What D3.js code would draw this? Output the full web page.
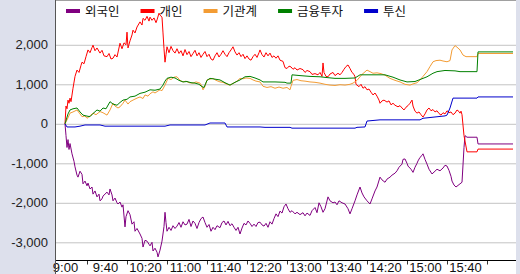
<!DOCTYPE html>
<html>
<head>
<meta charset="utf-8">
<script src="https://cdn.jsdelivr.net/npm/d3@7"></script>
<style>
  body { margin: 0; background: #dde0ec; }
  svg { display: block; }
</style>
</head>
<body>
<svg width="520" height="274"></svg>
<script>
// legend / series names
const seriesNames = ['외국인', '개인', '기관계', '금융투자', '투신']
const seriesColors = ['#800080', '#ff0000', '#f39c34', '#008000', '#0000cc']

// axis labels
const timeLabels = ['9:00', '9:40', '10:20', '11:00', '11:40', '12:20', '13:00', '13:40', '14:20', '15:00', '15:40']
const labelMinutes = [0, 40, 80, 120, 160, 200, 240, 280, 320, 360, 400]
const tickMinutes = [20, 60, 100, 140, 180, 220, 260, 300, 340, 380, 420]
const yTicks = [-3000, -2000, -1000, 0, 1000, 2000]

// 외국인 (minutes after 9:00, value)
const foreignT = [0,1,2,3,4,5,7,9,10,12,13,15,17,18,20,22,23,25,27,28,30,32,34,35,37,38,40,42,44,45,47,48,50,52,53,55,57,58,60,61,63,65,67,69,70,72,75,77,78,80,82,84,85,87,88,90,92,93,95,97,99,100,101,102,104,106,108,110,112,114,116,118,120,122,124,126,128,130,132,134,136,138,140,142,144,146,148,150,152,155,157,159,161,163,165,167,169,171,173,175,177,179,181,183,185,187,189,191,193,195,197,199,201,203,205,207,209,211,213,215,217,219,221,223,225,227,230,232,235,238,240,242,245,247,250,252,254,256,258,260,263,265,268,270,272,274,277,280,283,285,287,290,292,295,297,299,302,305,307,310,312,315,317,320,322,325,327,330,332,334,337,338,340,342,343,346,348,350,352,353,355,357,358,360,362,364,367,370,372,375,378,380,382,384,386,387,389,391,393,395,397,399,400,402,412,413,448]
const foreignV = [0,-300,-600,-400,-650,-500,-760,-950,-1090,-1300,-1350,-1200,-1280,-1520,-1450,-1570,-1500,-1650,-1600,-1780,-1700,-1850,-1780,-1950,-1900,-1830,-1780,-1730,-1800,-1650,-1800,-1950,-1880,-2000,-2030,-1980,-2110,-2050,-2610,-2350,-2200,-2300,-2540,-2480,-2720,-2650,-2790,-2900,-3120,-2950,-2970,-3050,-3090,-3000,-3220,-3150,-3250,-3370,-3200,-2970,-2600,-2240,-2500,-2720,-2620,-2700,-2580,-2650,-2590,-2500,-2620,-2480,-2560,-2540,-2420,-2600,-2460,-2520,-2650,-2500,-2400,-2360,-2500,-2620,-2550,-2720,-2620,-2680,-2580,-2630,-2500,-2460,-2560,-2470,-2580,-2530,-2620,-2700,-2620,-2790,-2640,-2520,-2560,-2460,-2520,-2600,-2540,-2600,-2500,-2490,-2560,-2590,-2520,-2620,-2480,-2540,-2400,-2280,-2350,-2210,-2260,-2100,-2030,-2150,-2240,-2200,-2280,-2240,-2300,-2250,-2330,-2260,-2320,-2200,-2120,-2250,-2000,-2100,-2240,-2150,-1850,-1950,-2000,-1980,-2050,-1950,-2000,-2030,-2150,-2280,-2150,-1950,-1800,-1600,-1750,-1850,-1950,-2030,-1900,-1700,-1600,-1350,-1420,-1480,-1400,-1350,-1300,-1250,-1190,-1100,-1020,-900,-890,-1000,-1070,-1150,-1230,-1100,-1000,-940,-850,-800,-760,-900,-1020,-1150,-1270,-1200,-1150,-1190,-1120,-1050,-1070,-1180,-1330,-1450,-1550,-1600,-1560,-1520,-1480,-600,-300,-340,-340,-510,-510]

// 개인
const retailT = [0,1,2,3,4,5,6,8,10,12,14,16,17,19,21,23,25,27,28,30,32,35,37,39,42,44,46,48,50,52,55,57,59,61,62,63,65,67,68,70,72,75,77,78,80,82,84,85,87,89,91,92,94,95,97,98,99,100,101,102,104,106,108,110,112,114,116,118,120,122,124,126,128,130,132,134,136,138,140,142,144,146,148,150,152,154,156,158,160,162,164,166,168,170,172,174,176,178,180,182,184,186,188,190,192,194,195,197,199,201,203,205,207,209,211,213,215,218,220,222,224,226,228,230,232,235,238,240,242,245,247,250,253,255,257,258,259,261,263,265,268,270,273,275,277,279,281,283,285,287,289,290,291,292,294,296,298,300,302,304,306,308,310,312,314,315,317,319,322,324,326,328,330,333,335,337,339,341,343,345,347,348,350,352,354,356,358,360,362,364,366,368,370,372,374,376,378,380,382,384,386,388,390,392,394,395,396,397,399,402,412,413,448]
const retailV = [0,450,380,600,520,650,560,900,1200,1360,1300,1480,1560,1520,1700,1870,1800,1930,1990,1850,1920,1790,1860,1720,1700,1780,1640,1660,1750,1690,2040,1900,2050,2000,2320,1920,2100,2250,2370,2300,2450,2580,2500,2670,2620,2720,2600,2700,2620,2680,2560,2630,2800,2750,2700,2300,1900,1560,1750,1950,1800,1960,1850,1790,1900,1780,1850,1720,1880,1750,1830,1700,1780,1860,1720,1800,1680,1760,1830,1700,1760,1640,1610,1720,1800,1690,1760,1850,1760,1700,1800,1870,1950,1820,1740,1800,1700,1760,1650,1720,1640,1610,1700,1760,1680,1800,1870,1750,1690,1800,1720,1790,1680,1720,1660,1720,1610,1580,1420,1400,1460,1440,1380,1420,1360,1400,1370,1300,1350,1320,1250,1270,1240,1300,1200,1540,1300,1200,1190,1260,1300,1220,1280,1240,1300,1380,1450,1490,1400,1300,1250,1190,1000,980,940,1000,900,940,860,880,800,730,780,700,600,520,580,600,550,580,480,520,470,430,460,400,350,420,460,520,600,450,320,270,300,230,170,250,350,400,330,360,300,330,260,220,280,250,330,280,300,230,270,350,310,270,320,230,-300,-710,-710,-640,-640]

// 기관계
const instT = [0,3,5,8,12,15,17,20,22,25,28,31,35,38,42,45,48,50,53,55,58,60,63,65,68,72,75,78,80,83,85,88,90,93,95,97,100,103,106,109,112,115,118,121,124,128,131,135,137,138,140,142,145,148,151,155,158,162,165,168,172,175,178,181,185,188,191,195,198,202,206,210,214,218,222,225,226,228,232,236,240,245,250,255,260,265,270,275,280,285,288,292,297,302,305,308,312,316,320,325,330,335,340,345,348,352,355,358,362,365,368,371,375,378,382,385,387,390,392,395,398,401,412,413,448]
const instV = [0,150,270,300,350,250,180,200,140,200,270,230,310,280,220,350,520,450,400,430,520,600,500,560,600,650,680,640,730,700,760,810,780,830,860,840,980,1150,1120,1180,1190,1100,1060,1080,1040,1030,1060,1030,940,860,950,1110,1130,1150,1100,1060,1050,1000,980,1020,1080,1150,1140,1160,1150,1110,1080,1060,950,920,940,900,930,900,920,860,950,1100,1120,1090,1080,1060,1050,1030,1000,980,970,990,980,1000,1030,1100,1250,1360,1320,1280,1290,1270,1230,1150,1100,1060,1000,980,1010,1040,1110,1200,1320,1450,1570,1600,1610,1590,1570,1600,1870,1980,1940,1870,1740,1700,1700,1780,1780]

// 금융투자
const finT = [0,3,5,8,12,15,18,21,25,28,32,35,38,41,45,48,52,55,58,62,65,70,75,80,85,90,95,98,100,102,106,110,114,118,122,126,130,134,137,139,142,145,150,155,160,165,170,175,180,185,190,195,198,210,220,222,226,227,235,245,255,262,270,280,290,295,305,320,328,335,342,350,358,362,368,372,380,390,395,412,413,448]
const finV = [0,250,350,380,400,300,220,200,180,260,350,320,400,380,560,500,470,540,600,620,680,700,770,800,860,850,880,980,1080,1150,1180,1160,1100,1060,1070,1040,1030,1000,940,920,1100,1150,1130,1110,1040,980,1050,1110,1190,1200,1160,1110,1060,1060,1050,1030,1030,1240,1220,1200,1190,1170,1150,1150,1160,1240,1240,1240,1180,1110,1060,1070,1150,1190,1280,1320,1350,1340,1320,1320,1820,1820]

// 투신
const trustT = [0,2,10,15,20,35,40,100,105,140,145,160,162,195,200,225,227,290,292,300,302,315,355,358,380,382,385,388,412,413,448]
const trustV = [0,-80,-80,-60,-30,-30,-60,-60,-30,-30,20,20,-80,-80,-90,-90,-110,-110,-90,-80,70,100,100,140,200,220,400,650,650,680,680]

const seriesT = [foreignT, retailT, instT, finT, trustT]
const seriesV = [foreignV, retailV, instV, finV, trustV]

const svg = d3.select('svg')
const plotL = 55, plotR = 516, plotT = 0, plotB = 260

const x = d3.scaleLinear().domain([0, 451]).range([65, plotR])
const y = d3.scaleLinear().domain([-3448, 3134]).range([plotB, plotT])

const fmt = d3.formatLocale({decimal: '.', thousands: ',', grouping: [3], currency: ['', ''], minus: '-'}).format(',')

// white plot + bottom strip
svg.append('rect').attr('x', plotL).attr('y', 0).attr('width', plotR - plotL).attr('height', 274).attr('fill', '#fff')

// gridlines
svg.append('g')
  .attr('transform', 'translate(' + plotL + ',0)')
  .call(d3.axisLeft(y).tickValues(yTicks).tickSize(-(plotR - plotL)).tickFormat(''))
  .call(g => g.select('.domain').remove())
  .call(g => g.selectAll('line').attr('stroke', '#c4c4c4'))

// top border
svg.append('line').attr('x1', plotL).attr('x2', plotR).attr('y1', 0.5).attr('y2', 0.5).attr('stroke', '#a0a0a0')

// y labels
svg.append('g')
  .attr('transform', 'translate(48,0)')
  .call(d3.axisLeft(y).tickValues(yTicks).tickSize(0).tickPadding(0).tickFormat(fmt))
  .call(g => g.select('.domain').remove())
  .call(g => g.selectAll('text').attr('font-family', 'Liberation Sans, Arial, sans-serif').attr('font-size', 13).attr('fill', '#222'))

// series
const line = d3.line().x(d => x(d[0])).y(d => y(d[1]))
const plot = svg.append('g')
seriesNames.forEach((name, i) => {
  const pts = seriesT[i].map((t, j) => [t, seriesV[i][j]])
  plot.append('path')
    .attr('d', line(pts))
    .attr('fill', 'none')
    .attr('stroke', seriesColors[i])
    .attr('stroke-width', 1)
})

// x axis labels
svg.append('g')
  .attr('transform', 'translate(0,' + (plotB + 0.5) + ')')
  .call(d3.axisBottom(x).tickValues(labelMinutes).tickSize(0).tickPadding(2)
    .tickFormat((d, i) => timeLabels[i]))
  .call(g => g.select('.domain').remove())
  .call(g => g.selectAll('text').attr('font-family', 'Liberation Sans, Arial, sans-serif').attr('font-size', 13).attr('fill', '#111'))

// small ticks between labels
svg.append('g')
  .attr('transform', 'translate(2,' + (plotB + 0.5) + ')')
  .call(d3.axisBottom(x).tickValues(tickMinutes).tickSize(4).tickFormat(''))
  .call(g => g.select('.domain').remove())
  .call(g => g.selectAll('line').attr('stroke', '#333'))

svg.append('line').attr('x1', plotL).attr('x2', plotR).attr('y1', plotB + 0.5).attr('y2', plotB + 0.5).attr('stroke', '#000')
svg.append('line').attr('x1', plotL + 0.5).attr('x2', plotL + 0.5).attr('y1', 0).attr('y2', 274).attr('stroke', '#555')

// legend
const legend = svg.append('g')
let lx = 66
seriesNames.forEach((name, i) => {
  legend.append('rect').attr('x', lx).attr('y', 9).attr('width', 14).attr('height', 4).attr('fill', seriesColors[i])
  const t = legend.append('text')
    .attr('x', lx + 19).attr('y', 16)
    .attr('font-family', 'Noto Sans CJK KR, sans-serif')
    .attr('font-size', 12.5)
    .attr('fill', '#111')
    .text(name)
  lx += 19 + t.node().getComputedTextLength() + 21
})
</script>
</body>
</html>
